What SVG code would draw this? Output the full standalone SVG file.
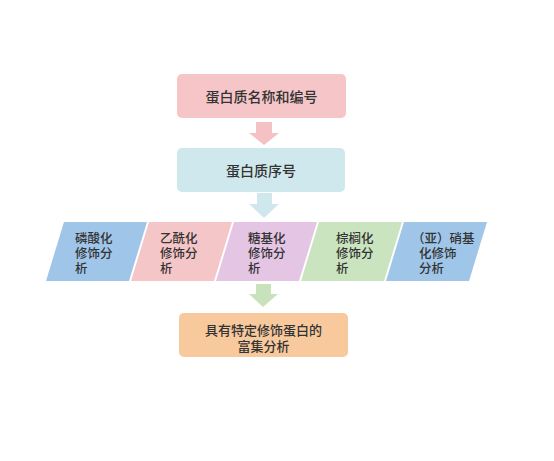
<svg xmlns="http://www.w3.org/2000/svg" width="554" height="461" viewBox="0 0 554 461">
<style>
text{font-family:"Noto Sans CJK SC","Noto Sans",sans-serif;fill:#333;font-size:12.5px;font-weight:500}
.t14{font-size:14px}
.t13{font-size:13px}
</style>
<rect width="554" height="461" fill="#fff"/>
<g id="connectors">
<polygon points="256,122 272,122 272,133 279,133 264,145 249,133 256,133" fill="#f4c2c5"/>
<polygon points="257,193 272,193 272,204 279,204 264,218 249,204 257,204" fill="#cfe8ed"/>
<polygon points="256,284 271,284 271,294 278,294 263,307 249,294 256,294" fill="#c8e2bc"/>
</g>
<g id="n1">
<rect x="177" y="74" width="169" height="44" rx="5" fill="#f5c5c8"/>
<text class="t14" x="261.5" y="102" text-anchor="middle">蛋白质名称和编号</text>
</g>
<g id="n2">
<rect x="177" y="148" width="168" height="44" rx="5" fill="#cfe8ed"/>
<text class="t14" x="261" y="176" text-anchor="middle">蛋白质序号</text>
</g>
<g id="p1">
<polygon points="64,222 147,222 129,281 46,281" fill="#9fc5e8"/>
<text x="75"><tspan x="75" y="243">磷酸化</tspan><tspan x="75" y="258">修饰分</tspan><tspan x="75" y="273">析</tspan></text>
</g>
<g id="p2">
<polygon points="149,222 232,222 214,281 131,281" fill="#f5c6c8"/>
<text x="160"><tspan x="160" y="243">乙酰化</tspan><tspan x="160" y="258">修饰分</tspan><tspan x="160" y="273">析</tspan></text>
</g>
<g id="p3">
<polygon points="234,222 317,222 299,281 216,281" fill="#e4c5e3"/>
<text x="248"><tspan x="248" y="243">糖基化</tspan><tspan x="248" y="258">修饰分</tspan><tspan x="248" y="273">析</tspan></text>
</g>
<g id="p4">
<polygon points="319,222 402,222 384,281 301,281" fill="#cae4c0"/>
<text x="336"><tspan x="336" y="243">棕榈化</tspan><tspan x="336" y="258">修饰分</tspan><tspan x="336" y="273">析</tspan></text>
</g>
<g id="p5">
<polygon points="404,222 487,222 469,281 386,281" fill="#9fc5e8"/>
<text x="412"><tspan x="412" y="243">（亚）硝基</tspan><tspan x="419" y="258">化修饰</tspan><tspan x="419" y="273">分析</tspan></text>
</g>
<g id="n4">
<rect x="179" y="313" width="169" height="44" rx="5" fill="#f8c99c"/>
<text class="t13" x="263.5" y="335" text-anchor="middle">具有特定修饰蛋白的</text>
<text class="t13" x="263.5" y="351" text-anchor="middle">富集分析</text>
</g>
</svg>
